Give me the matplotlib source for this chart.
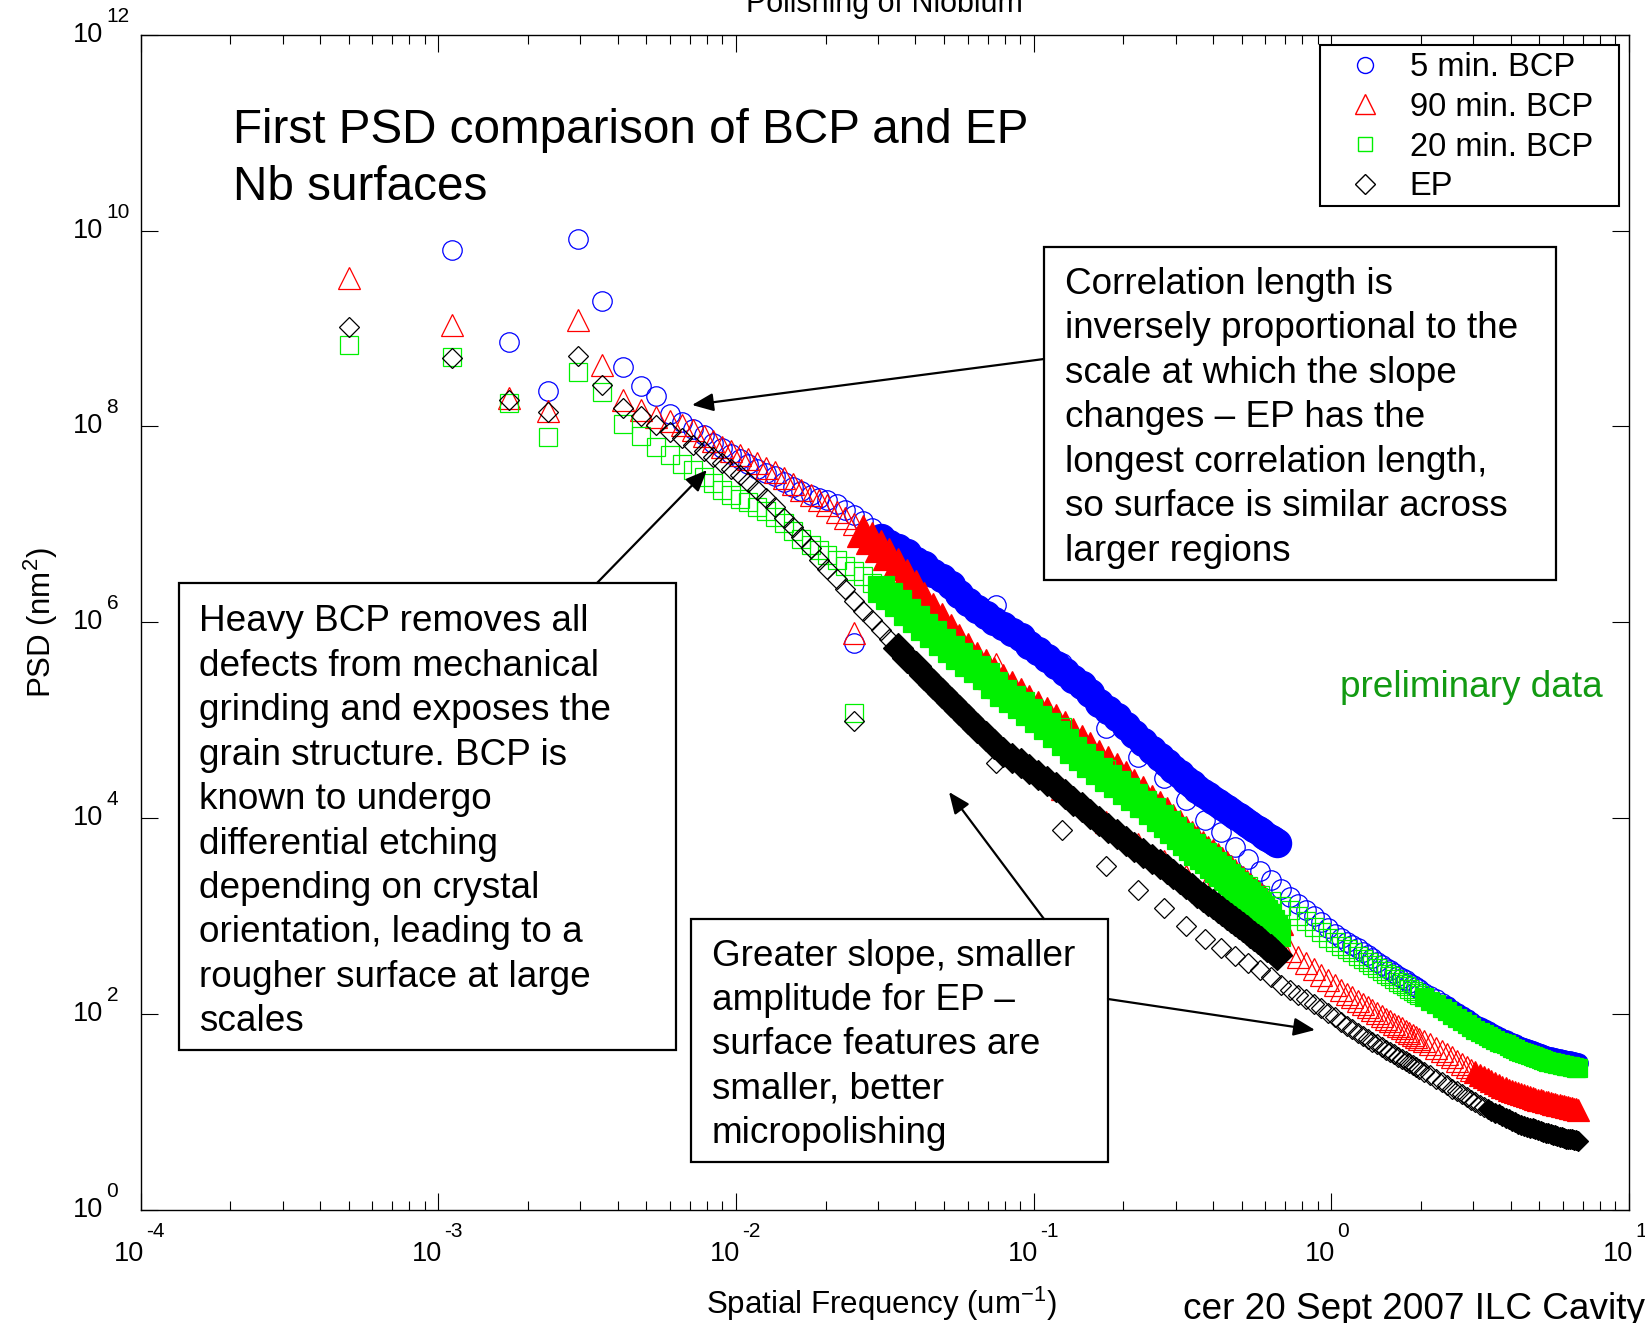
import numpy as np
import matplotlib
matplotlib.use("Agg")
import matplotlib.pyplot as plt
from matplotlib import font_manager
from matplotlib.lines import Line2D
from matplotlib.patches import Rectangle, FancyArrowPatch
from matplotlib.ticker import FixedLocator, NullLocator, NullFormatter, LogLocator

# ---------------- data (log10 of PSD in nm^2) ----------------
# large scan: spatial frequencies (um^-1)
scanA_freq = [5.0e-4, 1.11e-3, 1.73e-3, 2.34e-3, 2.95e-3, 3.54e-3, 4.16e-3, 4.78e-3, 5.39e-3,
              6.0e-3, 6.6e-3, 7.2e-3, 7.8e-3, 8.4e-3, 9.0e-3, 9.6e-3,
              0.0103, 0.011, 0.0118, 0.0126, 0.0135, 0.0145, 0.0155, 0.0166, 0.0178, 0.019,
              0.0203, 0.0218, 0.0233, 0.025, 0.0267, 0.0286, 0.0306, 0.0327, 0.035, 0.0375,
              0.0401, 0.0429, 0.0459, 0.0491, 0.0526, 0.0563, 0.0602, 0.0644, 0.069, 0.0738,
              0.079, 0.0845, 0.0904, 0.0967, 0.1035, 0.111, 0.119, 0.127, 0.136, 0.145,
              0.155, 0.166, 0.178, 0.19, 0.204, 0.218, 0.233,
              0.25, 0.265, 0.28, 0.295, 0.31, 0.325, 0.34, 0.355, 0.37, 0.385, 0.40, 0.415,
              0.43, 0.445, 0.46, 0.475, 0.49, 0.505, 0.52, 0.535, 0.55, 0.565, 0.58, 0.595,
              0.61, 0.625, 0.64, 0.655]

bcp5_scanA_log = [np.nan, 9.80, 8.86, 8.36, 9.91, 9.28, 8.61, 8.41, 8.31, 8.13, 8.05, 7.97, 7.91, 7.83, 7.78, 7.72,
                  7.67, 7.62, 7.57, 7.52, 7.49, 7.43, 7.38, 7.34, 7.30, 7.27,
                  7.25, 7.21, 7.15, 7.10, 7.03, 6.96, 6.86, 6.80, 6.76, 6.71,
                  6.63, 6.59, 6.50, 6.45, 6.38, 6.29, 6.21, 6.14, 6.08, 6.01,
                  5.96, 5.90, 5.85, 5.77, 5.71, 5.64, 5.56, 5.49, 5.42, 5.36,
                  5.28, 5.18, 5.10, 5.03, 4.94, 4.86, 4.78,
                  4.70, 4.63, 4.56, 4.50, 4.45, 4.39, 4.35, 4.30, 4.26, 4.23, 4.19, 4.16, 4.13, 4.09,
                  4.06, 4.03, 4.01, 3.98, 3.95, 3.93, 3.90, 3.88, 3.86, 3.83, 3.81, 3.79, 3.77, 3.75]

bcp90_scanA_log = [9.52, 9.04, 8.29, 8.16, 9.09, 8.63, 8.27, 8.17, 8.10, 8.06, 8.02, 7.96, 7.90, 7.85, 7.79, 7.75,
                   7.71, 7.67, 7.63, 7.58, 7.53, 7.47, 7.41, 7.35, 7.30, 7.25,
                   7.20, 7.13, 7.07, 7.00, 6.93, 6.86, 6.78, 6.70, 6.60, 6.48,
                   6.37, 6.25, 6.14, 6.03, 5.92, 5.82, 5.73, 5.64, 5.56, 5.48,
                   5.41, 5.34, 5.27, 5.20, 5.14, 5.07, 5.00, 4.93, 4.86, 4.79,
                   4.72, 4.64, 4.57, 4.50, 4.42, 4.34, 4.27,
                   4.18, 4.11, 4.05, 3.98, 3.92, 3.86, 3.81, 3.76, 3.71, 3.66, 3.62, 3.58, 3.54, 3.50,
                   3.46, 3.42, 3.38, 3.35, 3.31, 3.28, 3.24, 3.21, 3.18, 3.15, 3.10, 3.05, 3.01, 2.97]

bcp20_scanA_log = [8.83, 8.71, 8.24, 7.89, 8.56, 8.35, 8.03, 7.90, 7.79, 7.71, 7.62, 7.56, 7.48, 7.42, 7.35, 7.30,
                   7.26, 7.23, 7.18, 7.14, 7.08, 7.01, 6.93, 6.85, 6.79, 6.74,
                   6.69, 6.64, 6.58, 6.52, 6.47, 6.40, 6.34, 6.27, 6.20, 6.11,
                   6.03, 5.95, 5.88, 5.80, 5.73, 5.66, 5.59, 5.52, 5.45, 5.36,
                   5.28, 5.22, 5.16, 5.08, 5.01, 4.94, 4.86, 4.78, 4.70, 4.63,
                   4.55, 4.48, 4.41, 4.35, 4.28, 4.22, 4.15,
                   4.07, 4.00, 3.94, 3.88, 3.82, 3.76, 3.71, 3.66, 3.61, 3.57, 3.52, 3.48, 3.44, 3.40,
                   3.36, 3.32, 3.29, 3.25, 3.22, 3.18, 3.15, 3.11, 3.07, 3.03, 2.99, 2.93, 2.88, 2.83]

ep_scanA_log = [9.02, 8.70, 8.27, 8.15, 8.72, 8.42, 8.19, 8.11, 8.02, 7.94, 7.88, 7.81, 7.75, 7.69, 7.63, 7.57,
                7.50, 7.43, 7.35, 7.27, 7.18, 7.07, 6.97, 6.87, 6.76, 6.64,
                6.54, 6.44, 6.34, 6.22, 6.12, 6.02, 5.92, 5.83, 5.74, 5.64,
                5.55, 5.46, 5.37, 5.28, 5.19, 5.10, 5.01, 4.92, 4.84, 4.76,
                4.68, 4.62, 4.56, 4.50, 4.44, 4.38, 4.32, 4.25, 4.18, 4.11,
                4.04, 3.97, 3.90, 3.84, 3.77, 3.71, 3.65,
                3.58, 3.53, 3.48, 3.43, 3.38, 3.33, 3.29, 3.24, 3.20, 3.16, 3.12, 3.08, 3.05, 3.01,
                2.98, 2.95, 2.92, 2.89, 2.86, 2.83, 2.80, 2.77, 2.75, 2.72, 2.69, 2.66, 2.63, 2.60]

# small scan: spatial frequencies (um^-1)
scanB_freq = [0.025, 0.075, 0.125, 0.175, 0.225, 0.275, 0.325, 0.375, 0.425, 0.475,
              0.525, 0.575, 0.625, 0.675, 0.725, 0.775, 0.825, 0.875, 0.925, 0.975,
              1.025, 1.075, 1.125, 1.175, 1.225, 1.275, 1.325, 1.375, 1.425, 1.475,
              1.525, 1.575, 1.625, 1.675, 1.725, 1.775, 1.825, 1.875, 1.925, 1.975,
              2.05, 2.15, 2.25, 2.35, 2.45, 2.55, 2.65, 2.75, 2.85, 2.95,
              3.05, 3.15, 3.25, 3.35, 3.45, 3.55, 3.65, 3.75, 3.85, 3.95,
              4.05, 4.15, 4.25, 4.35, 4.45, 4.55, 4.65, 4.75, 4.85, 4.95,
              5.05, 5.15, 5.25, 5.35, 5.45, 5.55, 5.65, 5.75, 5.85, 5.95,
              6.05, 6.15, 6.25, 6.35, 6.45, 6.55, 6.65, 6.75]

bcp5_scanB_log = [5.79, 6.18, 5.58, 4.92, 4.63, 4.41, 4.19, 3.98, 3.86, 3.71,
                  3.58, 3.46, 3.37, 3.28, 3.20, 3.12, 3.06, 3.00, 2.94, 2.88,
                  2.82, 2.78, 2.74, 2.71, 2.67, 2.63, 2.60, 2.57, 2.53, 2.50,
                  2.47, 2.45, 2.42, 2.39, 2.37, 2.35, 2.32, 2.30, 2.28, 2.26,
                  2.22, 2.18, 2.15, 2.11, 2.08, 2.04, 2.01, 1.98, 1.95, 1.92,
                  1.89, 1.87, 1.85, 1.83, 1.81, 1.79, 1.77, 1.75, 1.74, 1.72,
                  1.70, 1.69, 1.67, 1.66, 1.65, 1.64, 1.63, 1.62, 1.61, 1.60,
                  1.59, 1.58, 1.57, 1.565, 1.56, 1.55, 1.55, 1.54, 1.54, 1.53,
                  1.53, 1.52, 1.52, 1.52, 1.51, 1.51, 1.50, 1.50]

bcp90_scanB_log = [5.89, 5.57, 4.30, 3.96, 3.74, 3.56, 3.41, 3.28, 3.16, 3.05,
                   2.95, 2.86, 2.78, 2.71, 2.64, 2.58, 2.52, 2.46, 2.40, 2.35,
                   2.30, 2.25, 2.21, 2.17, 2.13, 2.10, 2.07, 2.04, 2.01, 1.98,
                   1.95, 1.93, 1.90, 1.88, 1.86, 1.83, 1.81, 1.79, 1.77, 1.75,
                   1.73, 1.69, 1.65, 1.62, 1.59, 1.56, 1.52, 1.49, 1.46, 1.43,
                   1.41, 1.38, 1.36, 1.34, 1.32, 1.30, 1.28, 1.26, 1.25, 1.23,
                   1.21, 1.20, 1.19, 1.18, 1.17, 1.16, 1.15, 1.14, 1.13, 1.12,
                   1.12, 1.11, 1.10, 1.10, 1.09, 1.08, 1.08, 1.07, 1.07, 1.06,
                   1.06, 1.05, 1.05, 1.04, 1.04, 1.03, 1.03, 1.02]

bcp20_scanB_log = [5.07, 5.32, 4.93, 4.50, 4.22, 3.98, 3.79, 3.62, 3.49, 3.40,
                   3.31, 3.22, 3.15, 3.10, 3.06, 3.00, 2.95, 2.89, 2.84, 2.78,
                   2.74, 2.70, 2.66, 2.63, 2.59, 2.56, 2.53, 2.50, 2.47, 2.44,
                   2.41, 2.39, 2.36, 2.33, 2.31, 2.29, 2.26, 2.24, 2.22, 2.20,
                   2.17, 2.13, 2.10, 2.06, 2.03, 1.99, 1.96, 1.93, 1.90, 1.87,
                   1.84, 1.82, 1.80, 1.78, 1.76, 1.74, 1.72, 1.70, 1.69, 1.67,
                   1.65, 1.64, 1.62, 1.61, 1.60, 1.59, 1.58, 1.57, 1.56, 1.55,
                   1.54, 1.53, 1.52, 1.515, 1.51, 1.50, 1.50, 1.49, 1.49, 1.48,
                   1.48, 1.47, 1.47, 1.47, 1.46, 1.46, 1.45, 1.45]

ep_scanB_log = [4.99, 4.56, 3.88, 3.51, 3.27, 3.08, 2.90, 2.77, 2.67, 2.59,
                2.52, 2.45, 2.38, 2.30, 2.25, 2.20, 2.15, 2.10, 2.06, 2.01,
                1.97, 1.92, 1.88, 1.85, 1.81, 1.78, 1.75, 1.72, 1.69, 1.66,
                1.63, 1.61, 1.59, 1.56, 1.54, 1.52, 1.50, 1.48, 1.46, 1.44,
                1.41, 1.38, 1.34, 1.31, 1.28, 1.24, 1.21, 1.18, 1.15, 1.12,
                1.10, 1.07, 1.05, 1.03, 1.01, 0.99, 0.98, 0.96, 0.94, 0.93,
                0.91, 0.90, 0.88, 0.87, 0.86, 0.85, 0.84, 0.84, 0.83, 0.82,
                0.81, 0.80, 0.79, 0.79, 0.78, 0.77, 0.77, 0.76, 0.75, 0.75,
                0.74, 0.73, 0.73, 0.72, 0.72, 0.71, 0.71, 0.70]

series_labels = ['5 min. BCP', '90 min. BCP', '20 min. BCP', 'EP']
x_tick_exponents = [-4, -3, -2, -1, 0, 1]
y_tick_exponents = [0, 2, 4, 6, 8, 10, 12]

# ---------------- styling ----------------
W, H = 1645, 1323
avail = {f.name for f in font_manager.fontManager.ttflist}
SANS = 'Liberation Sans' if 'Liberation Sans' in avail else 'DejaVu Sans'

plt.rcParams['font.family'] = [SANS, 'DejaVu Sans']
plt.rcParams['mathtext.fontset'] = 'custom'
plt.rcParams['mathtext.rm'] = SANS
plt.rcParams['mathtext.it'] = SANS
plt.rcParams['mathtext.bf'] = SANS

fig = plt.figure(figsize=(W / 100, H / 100), dpi=100)
AX_L, AX_R, AX_T, AX_B = 140.6, 1629.0, 34.7, 1210.0
ax = fig.add_axes([AX_L / W, 1 - AX_B / H, (AX_R - AX_L) / W, (AX_B - AX_T) / H])


def fx(x):
    return x / W


def fy(y):
    return 1 - y / H


styles = [
    dict(marker='o', color='#0000ff', ms=14, lms=11.5, solid_a=0.03, solid_b=2.4),
    dict(marker='^', color='#ff0000', ms=15.5, lms=14, solid_a=0.026, solid_b=3.0),
    dict(marker='s', color='#00f000', ms=12.5, lms=10.5, solid_a=0.03, solid_b=2.0),
    dict(marker='D', color='#000000', ms=10.5, lms=10, solid_a=0.035, solid_b=3.3),
]
BAND_SCALE = 1.45   # dense overlapping markers of the large scan form a wider band
series_a = [bcp5_scanA_log, bcp90_scanA_log, bcp20_scanA_log, ep_scanA_log]
series_b = [bcp5_scanB_log, bcp90_scanB_log, bcp20_scanB_log, ep_scanB_log]

fa = np.array(scanA_freq)
fb = np.array(scanB_freq)
for st, la, lb in zip(styles, series_a, series_b):
    for f, lg, thr, sc in ((fa, la, st['solid_a'], BAND_SCALE), (fb, lb, st['solid_b'], 1.0)):
        p = 10.0 ** np.array(lg, dtype=float)
        m = f >= thr
        ax.plot(f[~m], p[~m], ls='none', marker=st['marker'], ms=st['ms'], mfc='none',
                mec=st['color'], mew=0.9)
        ax.plot(f[m], p[m], ls='none', marker=st['marker'], ms=st['ms'] * sc,
                mfc=st['color'], mec=st['color'], mew=0.9)

ax.set_xscale('log')
ax.set_yscale('log')
ax.set_xlim(1e-4, 10)
ax.set_ylim(1, 1e12)
ax.xaxis.set_major_locator(FixedLocator([10.0 ** e for e in x_tick_exponents]))
ax.xaxis.set_minor_locator(LogLocator(base=10, subs=np.arange(2, 10), numticks=20))
ax.yaxis.set_major_locator(FixedLocator([10.0 ** e for e in y_tick_exponents]))
ax.yaxis.set_minor_locator(NullLocator())
ax.xaxis.set_major_formatter(NullFormatter())
ax.xaxis.set_minor_formatter(NullFormatter())
ax.yaxis.set_major_formatter(NullFormatter())
ax.tick_params(which='both', direction='in', top=True, right=True, width=0.8, color='black')
ax.tick_params(which='major', length=12)
ax.tick_params(which='minor', length=6.5)
for sp in ax.spines.values():
    sp.set_linewidth(1.0)

# MATLAB-style tick labels ("10" with a raised exponent)
TL = 19.5
TE = 15
for e in x_tick_exponents:
    ax.annotate('10', xy=(10.0 ** e, 0), xycoords=('data', 'axes fraction'), xytext=(4, -44),
                textcoords='offset pixels', ha='right', va='center', fontsize=TL,
                annotation_clip=False)
    ax.annotate(str(e), xy=(10.0 ** e, 0), xycoords=('data', 'axes fraction'), xytext=(6, -27),
                textcoords='offset pixels', ha='left', va='baseline', fontsize=TE,
                annotation_clip=False)
for e in y_tick_exponents:
    ax.annotate('10', xy=(0, 10.0 ** e), xycoords=('axes fraction', 'data'), xytext=(-37, 0),
                textcoords='offset pixels', ha='right', va='center', fontsize=TL,
                annotation_clip=False)
    ax.annotate(str(e), xy=(0, 10.0 ** e), xycoords=('axes fraction', 'data'), xytext=(-34, 13),
                textcoords='offset pixels', ha='left', va='baseline', fontsize=TE,
                annotation_clip=False)

# axis labels and cut-off title
fig.text(fx(881), fy(1304), 'Spatial Frequency (um$^{-1}$)', ha='center', va='center',
         fontsize=22.5)
fig.text(fx(41), fy(623), 'PSD (nm$^{2}$)', ha='center', va='center', rotation=90,
         fontsize=22.5)
fig.text(fx(884), fy(12), 'Polishing of Niobium', ha='center', va='baseline', fontsize=22)

# legend (its frame drawn as a rectangle matching the reference box)
handles = [Line2D([], [], ls='none', marker=st['marker'], ms=st['lms'], mfc='none',
                  mec=st['color'], mew=1.0) for st in styles]
fig.add_artist(Rectangle((fx(1320), fy(206)), fx(1619) - fx(1320), fy(45) - fy(206),
                         transform=fig.transFigure, fc='white', ec='black', lw=1.5, zorder=4))
leg = fig.legend(handles, series_labels, loc='upper left',
                 bbox_to_anchor=(fx(1332), fy(52)), bbox_transform=fig.transFigure,
                 borderaxespad=0, borderpad=0, frameon=False, fontsize=23.5,
                 handlelength=2.0, handletextpad=0.38, labelspacing=0.27, markerscale=1.0)
leg.set_zorder(5)

# annotation boxes (text placed by the baseline of its last line)
TFS = 26.6
LS = 1.35
PITCH = 44.6
boxes = [
    ((1044, 246.5, 1556, 580), (1065, 293),
     'Correlation length is\ninversely proportional to the\nscale at which the slope\n'
     'changes \u2013 EP has the\nlongest correlation length,\nso surface is similar across\nlarger regions'),
    ((179, 583, 676, 1050), (199, 630),
     'Heavy BCP removes all\ndefects from mechanical\ngrinding and exposes the\n'
     'grain structure. BCP is\nknown to undergo\ndifferential etching\ndepending on crystal\n'
     'orientation, leading to a\nrougher surface at large\nscales'),
    ((691, 919, 1108, 1162), (712, 965),
     'Greater slope, smaller\namplitude for EP \u2013\nsurface features are\nsmaller, better\nmicropolishing'),
]
for (x0, y0, x1, y1), (tx, ty), txt in boxes:
    fig.add_artist(Rectangle((fx(x0), fy(y1)), fx(x1) - fx(x0), fy(y0) - fy(y1),
                             transform=fig.transFigure, fc='white', ec='black', lw=1.6, zorder=4))
    nlines = txt.count('\n')
    fig.text(fx(tx), fy(ty + nlines * PITCH), txt, ha='left', va='baseline', fontsize=TFS,
             linespacing=LS, zorder=5)

fig.text(fx(233), fy(200), 'First PSD comparison of BCP and EP\nNb surfaces', ha='left',
         va='baseline', fontsize=34.3, linespacing=LS, zorder=5)
fig.text(fx(1340), fy(697), 'preliminary data', ha='left', va='baseline', fontsize=TFS,
         color='#129a12', zorder=5)
fig.text(fx(1183), fy(1319), 'cer 20 Sept 2007 ILC Cavity', ha='left', va='baseline',
         fontsize=TFS, zorder=5)

# arrows
arrows = [((1044, 359), (692, 405)),
          ((597, 583), (707, 470)),
          ((1044, 919), (949, 792)),
          ((1108, 999), (1315, 1030))]
for (xa, ya), (xb, yb) in arrows:
    fig.add_artist(FancyArrowPatch((fx(xa), fy(ya)), (fx(xb), fy(yb)), transform=fig.transFigure,
                                   arrowstyle='-|>,head_length=1.3,head_width=0.55',
                                   mutation_scale=10, lw=1.6, color='black',
                                   shrinkA=0, shrinkB=0, zorder=6))

fig.savefig('out.png', dpi=100)
